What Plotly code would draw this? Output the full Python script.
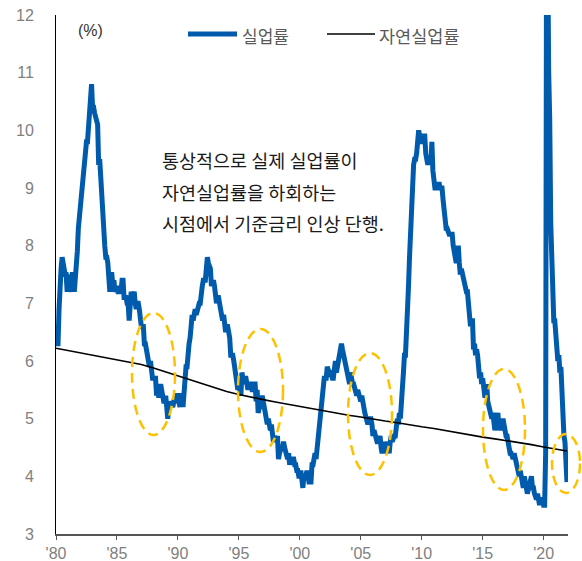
import plotly.graph_objects as go

# Monthly unemployment rate (%) Jan 1980 - Dec 2021
unemployment_rate = [
    6.3, 6.3, 6.3, 6.9, 7.5, 7.6, 7.8, 7.7, 7.5, 7.5, 7.5, 7.2,   # 1980
    7.5, 7.4, 7.4, 7.2, 7.5, 7.5, 7.2, 7.4, 7.6, 7.9, 8.3, 8.5,   # 1981
    8.6, 8.9, 9.0, 9.3, 9.4, 9.6, 9.8, 9.8, 10.1, 10.4, 10.8, 10.8,  # 1982
    10.4, 10.4, 10.3, 10.2, 10.1, 10.1, 9.4, 9.5, 9.2, 8.8, 8.5, 8.3,  # 1983
    8.0, 7.8, 7.8, 7.7, 7.4, 7.2, 7.5, 7.5, 7.3, 7.4, 7.2, 7.3,   # 1984
    7.3, 7.2, 7.2, 7.3, 7.2, 7.4, 7.4, 7.1, 7.1, 7.1, 7.0, 7.0,   # 1985
    6.7, 7.2, 7.2, 7.1, 7.2, 7.2, 7.0, 6.9, 7.0, 7.0, 6.9, 6.6,   # 1986
    6.6, 6.6, 6.6, 6.3, 6.3, 6.2, 6.1, 6.0, 5.9, 6.0, 5.8, 5.7,   # 1987
    5.7, 5.7, 5.7, 5.4, 5.6, 5.4, 5.4, 5.6, 5.4, 5.4, 5.3, 5.3,   # 1988
    5.4, 5.2, 5.0, 5.2, 5.2, 5.3, 5.2, 5.2, 5.3, 5.3, 5.4, 5.4,   # 1989
    5.4, 5.3, 5.2, 5.4, 5.4, 5.2, 5.5, 5.7, 5.9, 5.9, 6.2, 6.3,   # 1990
    6.4, 6.6, 6.8, 6.7, 6.9, 6.9, 6.8, 6.9, 6.9, 7.0, 7.0, 7.3,   # 1991
    7.3, 7.4, 7.4, 7.4, 7.6, 7.8, 7.7, 7.6, 7.6, 7.3, 7.4, 7.4,   # 1992
    7.3, 7.1, 7.0, 7.1, 7.1, 7.0, 6.9, 6.8, 6.7, 6.8, 6.6, 6.5,   # 1993
    6.6, 6.6, 6.5, 6.4, 6.1, 6.1, 6.1, 6.0, 5.9, 5.8, 5.6, 5.5,   # 1994
    5.6, 5.4, 5.4, 5.8, 5.6, 5.6, 5.7, 5.7, 5.6, 5.5, 5.6, 5.6,   # 1995
    5.6, 5.5, 5.5, 5.6, 5.6, 5.3, 5.5, 5.1, 5.2, 5.2, 5.4, 5.4,   # 1996
    5.3, 5.2, 5.2, 5.1, 4.9, 5.0, 4.9, 4.8, 4.9, 4.7, 4.6, 4.7,   # 1997
    4.6, 4.6, 4.7, 4.3, 4.4, 4.5, 4.5, 4.5, 4.6, 4.5, 4.4, 4.4,   # 1998
    4.3, 4.4, 4.2, 4.3, 4.2, 4.3, 4.3, 4.2, 4.2, 4.1, 4.1, 4.0,   # 1999
    4.0, 4.1, 4.0, 3.8, 4.0, 4.0, 4.0, 4.1, 3.9, 3.9, 3.9, 3.9,   # 2000
    4.2, 4.2, 4.3, 4.4, 4.3, 4.5, 4.6, 4.9, 5.0, 5.3, 5.5, 5.7,   # 2001
    5.7, 5.7, 5.7, 5.9, 5.8, 5.8, 5.8, 5.7, 5.7, 5.7, 5.9, 6.0,   # 2002
    5.8, 5.9, 5.9, 6.0, 6.1, 6.3, 6.2, 6.1, 6.1, 6.0, 5.8, 5.7,   # 2003
    5.7, 5.6, 5.8, 5.6, 5.6, 5.6, 5.5, 5.4, 5.4, 5.5, 5.4, 5.4,   # 2004
    5.3, 5.4, 5.2, 5.2, 5.1, 5.0, 5.0, 4.9, 5.0, 5.0, 5.0, 4.9,   # 2005
    4.7, 4.8, 4.7, 4.7, 4.6, 4.6, 4.7, 4.7, 4.5, 4.4, 4.5, 4.4,   # 2006
    4.6, 4.5, 4.4, 4.5, 4.4, 4.6, 4.7, 4.6, 4.7, 4.7, 4.7, 5.0,   # 2007
    5.0, 4.9, 5.1, 5.0, 5.4, 5.6, 5.8, 6.1, 6.1, 6.5, 6.8, 7.3,   # 2008
    7.8, 8.3, 8.7, 9.0, 9.4, 9.5, 9.5, 9.6, 9.8, 10.0, 9.9, 9.9,  # 2009
    9.8, 9.8, 9.9, 9.9, 9.6, 9.4, 9.4, 9.5, 9.5, 9.4, 9.8, 9.3,   # 2010
    9.1, 9.0, 9.0, 9.1, 9.0, 9.1, 9.0, 9.0, 9.0, 8.8, 8.6, 8.5,   # 2011
    8.3, 8.3, 8.2, 8.2, 8.2, 8.2, 8.2, 8.0, 7.8, 7.8, 7.7, 7.9,   # 2012
    8.0, 7.7, 7.5, 7.6, 7.5, 7.5, 7.3, 7.2, 7.2, 7.2, 6.9, 6.7,   # 2013
    6.6, 6.7, 6.7, 6.2, 6.3, 6.1, 6.2, 6.1, 5.9, 5.7, 5.8, 5.6,   # 2014
    5.7, 5.5, 5.4, 5.4, 5.6, 5.3, 5.2, 5.1, 5.0, 5.0, 5.1, 5.0,   # 2015
    4.8, 4.9, 5.0, 5.1, 4.8, 4.9, 4.8, 4.9, 5.0, 4.9, 4.7, 4.7,   # 2016
    4.7, 4.6, 4.4, 4.4, 4.4, 4.3, 4.3, 4.4, 4.3, 4.2, 4.2, 4.1,   # 2017
    4.0, 4.1, 4.0, 4.0, 3.8, 4.0, 3.8, 3.8, 3.7, 3.8, 3.8, 3.9,   # 2018
    4.0, 3.8, 3.8, 3.7, 3.6, 3.6, 3.7, 3.6, 3.5, 3.6, 3.6, 3.6,   # 2019
    3.5, 3.5, 4.4, 14.7, 13.2, 11.0, 10.2, 8.4, 7.9, 6.9, 6.7, 6.7,  # 2020
    6.4, 6.2, 6.0, 6.1, 5.8, 5.9, 5.4, 5.2, 4.7, 4.6, 4.2, 3.9,   # 2021
]
start_year = 1980

# Natural rate of unemployment (%), read at year points
natural_rate_years = [1980, 1981, 1982, 1983, 1984, 1985, 1986, 1987, 1988, 1989,
                      1990, 1991, 1992, 1993, 1994, 1995, 1996, 1997, 1998, 1999,
                      2000, 2001, 2002, 2003, 2004, 2005, 2006, 2007, 2008, 2009,
                      2010, 2011, 2012, 2013, 2014, 2015, 2016, 2017, 2018, 2019,
                      2020, 2021, 2021.92]
natural_rate = [6.22, 6.18, 6.14, 6.10, 6.07, 6.03, 5.99, 5.94, 5.88, 5.81,
                5.74, 5.67, 5.60, 5.53, 5.47, 5.42, 5.37, 5.33, 5.29, 5.25,
                5.22, 5.18, 5.14, 5.10, 5.06, 5.03, 4.99, 4.96, 4.93, 4.89,
                4.86, 4.83, 4.79, 4.75, 4.71, 4.68, 4.65, 4.62, 4.59, 4.55,
                4.51, 4.47, 4.44]

tick_years = [1980, 1985, 1990, 1995, 2000, 2005, 2010, 2015, 2020]
tick_labels = ["'80", "'85", "'90", "'95", "'00", "'05", "'10", "'15", "'20"]
y_ticks = [3, 4, 5, 6, 7, 8, 9, 10, 11, 12]

series_names = ["실업률", "자연실업률"]
annotation_lines = ["통상적으로 실제 실업률이", "자연실업률을 하회하는", "시점에서 기준금리 인상 단행."]

x_months = [start_year + i / 12 for i in range(len(unemployment_rate))]

BLUE = "#005BAC"
KFONT = "Noto Sans CJK KR"
NFONT = "Liberation Sans, Arial, sans-serif"

fig = go.Figure()
fig.add_trace(go.Scatter(x=x_months, y=unemployment_rate, mode="lines",
                         name=series_names[0],
                         line=dict(color=BLUE, width=5), showlegend=False))
fig.add_trace(go.Scatter(x=natural_rate_years, y=natural_rate, mode="lines",
                         name=series_names[1],
                         line=dict(color="#000000", width=1.6), showlegend=False))

L, R, T, B = 56, 14, 15, 27
W, H = 582, 561
pw, ph = W - L - R, H - T - B

def px(x):
    return (x - L) / pw

def py(y):
    return (H - B - y) / ph

# dashed ellipses (pixel boxes)
ellipses = [(132, 313, 175, 435), (238, 329, 283, 452), (348, 353, 392, 475),
            (483, 369, 525, 490), (552, 434, 580, 493)]
shapes = []
for x0, y0, x1, y1 in ellipses:
    shapes.append(dict(type="circle", xref="paper", yref="paper",
                       x0=px(x0), x1=px(x1), y0=py(y1), y1=py(y0),
                       line=dict(color="#FFC000", width=2.5, dash="10px,6px"),
                       layer="above"))
# manual legend
shapes.append(dict(type="line", xref="paper", yref="paper", x0=px(188), x1=px(237),
                   y0=py(34), y1=py(34), line=dict(color=BLUE, width=5)))
shapes.append(dict(type="line", xref="paper", yref="paper", x0=px(327), x1=px(375),
                   y0=py(34), y1=py(34), line=dict(color="#000000", width=1.6)))

annotations = [
    dict(text=series_names[0], x=px(240), y=py(35), xref="paper", yref="paper",
         xanchor="left", yanchor="middle", showarrow=False,
         font=dict(family=KFONT, size=17, color="#595959")),
    dict(text=series_names[1], x=px(377), y=py(35), xref="paper", yref="paper",
         xanchor="left", yanchor="middle", showarrow=False,
         font=dict(family=KFONT, size=17.5, color="#595959")),
    dict(text="(%)", x=px(90), y=py(30), xref="paper", yref="paper",
         xanchor="center", yanchor="middle", showarrow=False,
         font=dict(family=NFONT, size=16, color="#333333")),
]
for txt, yy in zip(annotation_lines, [160, 192, 223]):
    annotations.append(dict(text=txt, x=px(160), y=py(yy), xref="paper", yref="paper",
                            xanchor="left", yanchor="middle", showarrow=False,
                            font=dict(family=KFONT, size=18.5, color="#1a1a1a")))

fig.update_layout(
    width=W, height=H,
    margin=dict(l=L, r=R, t=T, b=B, pad=0),
    paper_bgcolor="white", plot_bgcolor="white",
    showlegend=False,
    shapes=shapes, annotations=annotations,
    xaxis=dict(range=[1980, 2022], tickvals=tick_years, ticktext=tick_labels,
               automargin=False,
               showgrid=False, zeroline=False, showline=True, linecolor="#555555",
               linewidth=1.5, ticks="outside", ticklen=4, tickcolor="#555555",
               tickfont=dict(family=NFONT, size=16, color="#7f7f7f")),
    yaxis=dict(range=[3, 12], tickvals=y_ticks, showgrid=False, zeroline=False,
               automargin=False,
               showline=True, linecolor="#000000", linewidth=1, ticks="",
               ticklabelstandoff=18,
               tickfont=dict(family=NFONT, size=16, color="#7f7f7f")),
)

fig.write_html("out.html",
               config={"displayModeBar": False},
               post_script="document.body.style.margin='0';document.body.style.overflow='hidden';")
